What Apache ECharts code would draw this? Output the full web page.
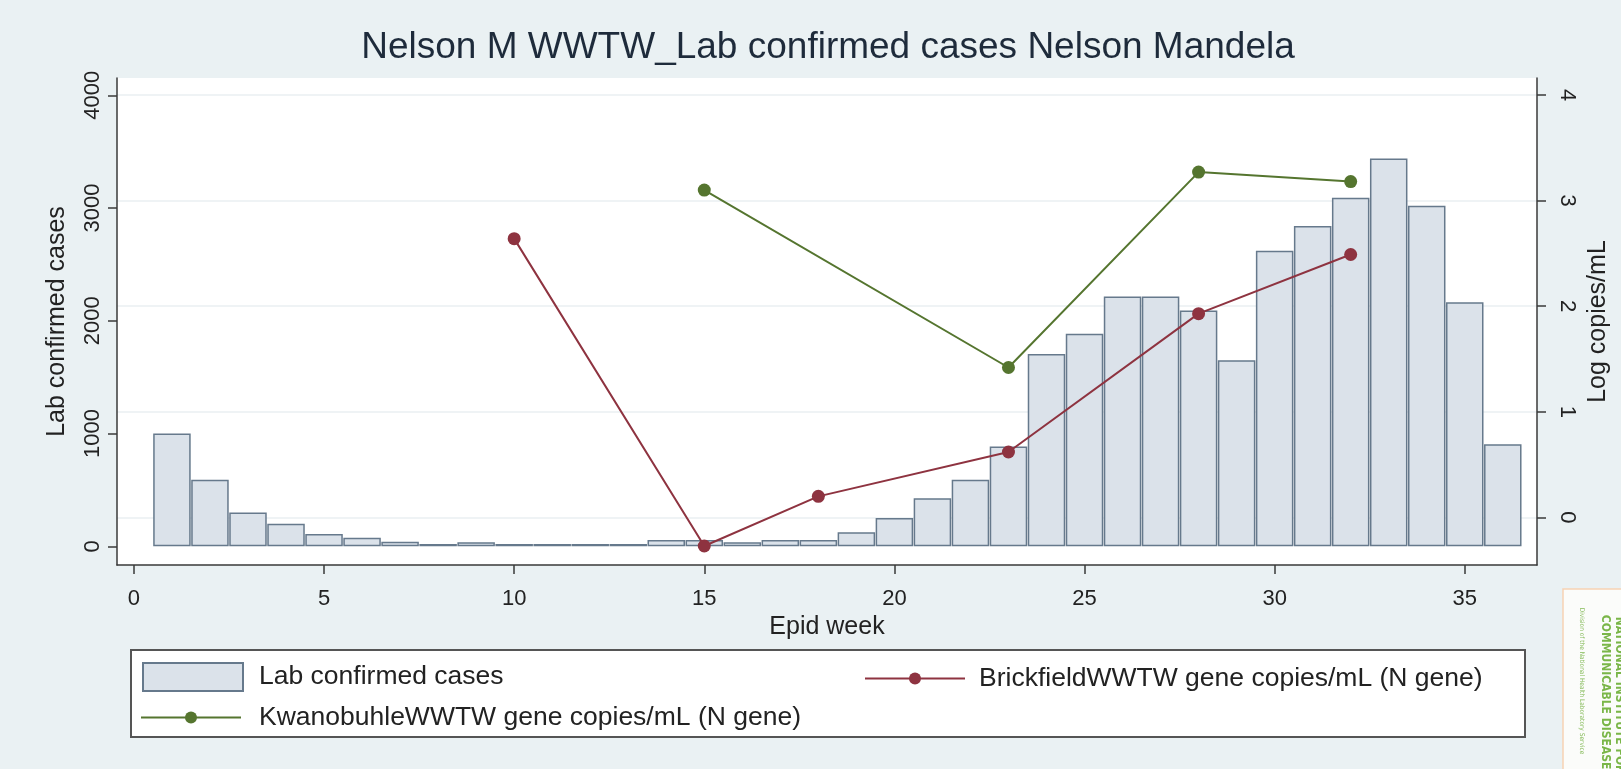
<!DOCTYPE html>
<html>
<head>
<meta charset="utf-8">
<script src="https://cdn.jsdelivr.net/npm/echarts@6/dist/echarts.min.js"></script>
<style>
  html, body { margin: 0; padding: 0; background: #eaf1f3; }
  #chart { width: 1621px; height: 769px; }
</style>
</head>
<body>
<div id="chart"></div>
<script>
// Epid weeks and lab confirmed cases (bars, left axis)
const weeks = [1, 2, 3, 4, 5, 6, 7, 8, 9, 10, 11, 12, 13, 14, 15, 16, 17, 18,
  19, 20, 21, 22, 23, 24, 25, 26, 27, 28, 29, 30, 31, 32, 33, 34, 35, 36]
const labCases = [1000, 590, 300, 200, 110, 75, 40, 20, 35, 20, 20, 20, 20, 55, 55, 35, 55, 55,
  125, 250, 425, 590, 885, 1705, 1885, 2215, 2215, 2090, 1650, 2620, 2840, 3090, 3440, 3020, 2165, 905]

// Wastewater log copies/mL (lines, right axis)
const brickfieldWeeks = [10, 15, 18, 23, 28, 32]
const brickfieldLog = [2.64, -0.27, 0.2, 0.62, 1.93, 2.49]
const kwanobuhleWeeks = [15, 23, 28, 32]
const kwanobuhleLog = [3.1, 1.42, 3.27, 3.18]

const xTicks = [0, 5, 10, 15, 20, 25, 30, 35]
const leftTicks = [0, 1000, 2000, 3000, 4000]
const rightTicks = [0, 1, 2, 3, 4]

const FONT = "'Liberation Sans', Arial, sans-serif"
const NARROW = "'Liberation Sans Narrow', 'DejaVu Sans Condensed', 'Liberation Sans', sans-serif"
const AXIS_COLOR = '#3a3a3a'
const TEXT_COLOR = '#222'
const RED = '#8e3340'
const GREEN = '#55752f'

const NAME_CASES = 'Lab confirmed cases'
const NAME_BRICK = 'BrickfieldWWTW gene copies/mL (N gene)'
const NAME_KWANO = 'KwanobuhleWWTW gene copies/mL (N gene)'

const pairs = (xs, ys) => xs.map((x, i) => [x, ys[i]])
const plain = (v) => String(v)

const legendText = (pad) => ({
  color: TEXT_COLOR, fontSize: 26.5, fontFamily: FONT, padding: [0, 0, 0, pad],
})

const chart = echarts.init(document.getElementById('chart'), null, { renderer: 'canvas' })

chart.setOption({
  animation: false,
  backgroundColor: '#eaf1f3',
  textStyle: { fontFamily: FONT },
  grid: {
    left: 117, right: 84, top: 78, bottom: 204,
    show: true, backgroundColor: '#ffffff', borderWidth: 0,
  },
  xAxis: {
    type: 'value',
    min: -0.445,
    max: 36.9,
    name: 'Epid week',
    nameLocation: 'middle',
    nameGap: 42,
    nameTextStyle: { color: TEXT_COLOR, fontSize: 25, fontFamily: FONT },
    axisLine: { show: true, onZero: false, lineStyle: { color: AXIS_COLOR, width: 1.5 } },
    axisTick: { show: true, length: 9, customValues: xTicks, lineStyle: { color: AXIS_COLOR, width: 1.5 } },
    axisLabel: { customValues: xTicks, formatter: plain, margin: 23, color: TEXT_COLOR, fontSize: 22, fontFamily: FONT },
    splitLine: { show: false },
  },
  yAxis: [
    {
      type: 'value',
      position: 'left',
      min: -166,
      max: 4153,
      name: NAME_CASES,
      nameLocation: 'middle',
      nameRotate: 90,
      nameGap: 47,
      nameTextStyle: { color: TEXT_COLOR, fontSize: 25, fontFamily: FONT },
      axisLine: { show: true, onZero: false, lineStyle: { color: AXIS_COLOR, width: 1.5 } },
      axisTick: { show: true, length: 9, customValues: leftTicks, lineStyle: { color: AXIS_COLOR, width: 1.5 } },
      axisLabel: { customValues: leftTicks, formatter: plain, rotate: 90, margin: 13, color: TEXT_COLOR, fontSize: 22, fontFamily: FONT },
      splitLine: { show: false },
    },
    {
      type: 'value',
      position: 'right',
      min: -0.45,
      max: 4.161,
      name: 'Log copies/mL',
      nameLocation: 'middle',
      nameRotate: 90,
      nameGap: 46,
      nameTextStyle: { color: TEXT_COLOR, fontSize: 25, fontFamily: FONT },
      axisLine: { show: true, onZero: false, lineStyle: { color: AXIS_COLOR, width: 1.5 } },
      axisTick: { show: true, length: 9, customValues: rightTicks, lineStyle: { color: AXIS_COLOR, width: 1.5 } },
      axisLabel: { customValues: rightTicks, formatter: plain, rotate: -90, margin: 19, color: TEXT_COLOR, fontSize: 22, fontFamily: FONT },
      splitLine: { show: true, lineStyle: { color: '#eaeff2', width: 1.5 } },
    },
  ],
  legend: [
    {
      data: [{ name: NAME_CASES, icon: 'rect' }], left: 142, top: 662, padding: 0,
      itemWidth: 100, itemHeight: 28, textStyle: legendText(11),
    },
    {
      data: [NAME_KWANO], left: 140, top: 704, padding: 0,
      itemWidth: 100, itemHeight: 15, textStyle: legendText(13),
    },
    {
      data: [NAME_BRICK], left: 864, top: 665, padding: 0,
      itemWidth: 100, itemHeight: 15, textStyle: legendText(9),
    },
  ],
  graphic: [
    {
      type: 'text', x: 828, y: 48, z: 10,
      style: {
        text: 'Nelson M WWTW_Lab confirmed cases Nelson Mandela',
        fill: '#1e2b3b', font: `37px ${FONT}`, textAlign: 'center', textVerticalAlign: 'middle',
      },
    },
    // legend frame
    {
      type: 'rect', z: 0,
      shape: { x: 131, y: 650, width: 1394, height: 87 },
      style: { fill: '#ffffff', stroke: '#555', lineWidth: 2 },
    },
    // NICD logo block
    {
      type: 'rect', z: 0,
      shape: { x: 1563, y: 589, width: 70, height: 190 },
      style: { fill: '#fbfcfa', stroke: '#f7d2b4', lineWidth: 1.5 },
    },
    {
      type: 'text', x: 1619, y: 695, rotation: -Math.PI / 2, z: 5,
      style: {
        text: 'NATIONAL INSTITUTE FOR', fill: '#7ab648',
        font: `bold 12px ${NARROW}`, textAlign: 'center', textVerticalAlign: 'middle',
      },
    },
    {
      type: 'text', x: 1605, y: 696, rotation: -Math.PI / 2, z: 5,
      style: {
        text: 'COMMUNICABLE DISEASES', fill: '#7ab648',
        font: `bold 12px ${NARROW}`, textAlign: 'center', textVerticalAlign: 'middle',
      },
    },
    {
      type: 'text', x: 1582, y: 681, rotation: -Math.PI / 2, z: 5,
      style: {
        text: 'Division of the National Health Laboratory Service', fill: '#86bb5a',
        font: `6.5px ${NARROW}`, textAlign: 'center', textVerticalAlign: 'middle',
      },
    },
  ],
  series: [
    {
      name: NAME_CASES,
      type: 'bar',
      yAxisIndex: 0,
      barWidth: 37.5,
      itemStyle: { color: '#dbe2ea', borderColor: '#66798c', borderWidth: 1.5 },
      data: pairs(weeks, labCases),
    },
    {
      name: NAME_BRICK,
      type: 'line',
      yAxisIndex: 1,
      symbol: 'circle',
      symbolSize: 13,
      itemStyle: { color: RED },
      lineStyle: { color: RED, width: 2 },
      data: pairs(brickfieldWeeks, brickfieldLog),
      z: 3,
    },
    {
      name: NAME_KWANO,
      type: 'line',
      yAxisIndex: 1,
      symbol: 'circle',
      symbolSize: 13,
      itemStyle: { color: GREEN },
      lineStyle: { color: GREEN, width: 2 },
      data: pairs(kwanobuhleWeeks, kwanobuhleLog),
      z: 3,
    },
  ],
})
</script>
</body>
</html>
